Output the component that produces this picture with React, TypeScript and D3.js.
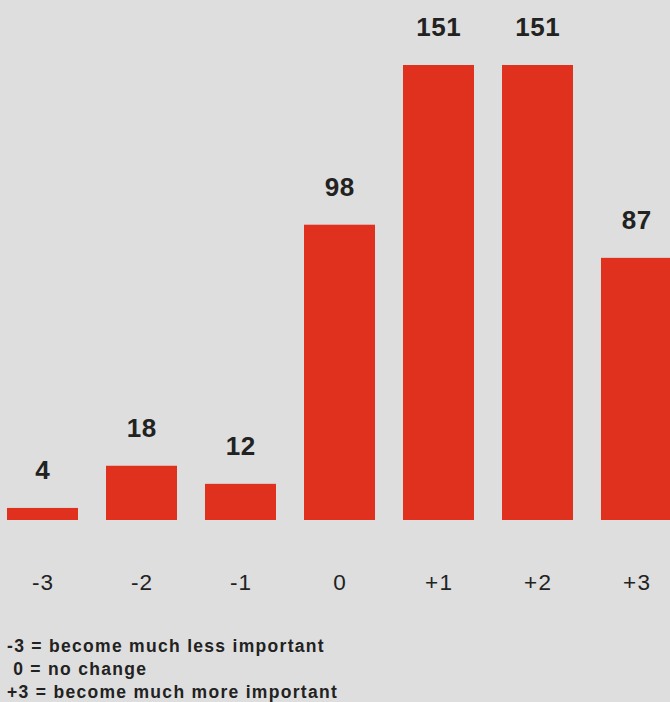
import React from "react";
import * as d3 from "d3";

const categories = ["-3", "-2", "-1", "0", "+1", "+2", "+3"];
const values = [4, 18, 12, 98, 151, 151, 87];
const legendLines = [
  "-3 = become much less important",
  "\u00a00 = no change",
  "+3 = become much more important",
];

const W = 670;
const H = 702;

export default function App() {
  const step = 99;
  const bw = 71;
  const x = d3
    .scaleBand<string>()
    .domain(categories)
    .range([7 - (step - bw) / 2, 7 - (step - bw) / 2 + step * categories.length])
    .paddingInner((step - bw) / step)
    .paddingOuter((step - bw) / step / 2);
  const y = d3.scaleLinear().domain([0, 151]).range([520, 65]);
  const font = "Helvetica, Arial, 'Liberation Sans', sans-serif";
  return (
    <svg
      width={W}
      height={H}
      style={{ position: "absolute", left: 0, top: 0, display: "block" }}
    >
      <rect x={0} y={0} width={W} height={H} fill="#dedede" />
      {categories.map((c, i) => {
        const bx = x(c) as number;
        const w = x.bandwidth();
        return (
          <g key={c}>
            <rect
              x={bx}
              y={y(values[i])}
              width={w}
              height={y(0) - y(values[i])}
              fill="#e0311f"
            />
            <text
              x={bx + w / 2 + 0.3}
              y={y(values[i]) - 29}
              textAnchor="middle"
              fontFamily={font}
              fontWeight="bold"
              fontSize={26}
              letterSpacing={0.6}
              fill="#222"
            >
              {values[i]}
            </text>
            <text
              x={bx + w / 2 + 0.6}
              y={590}
              textAnchor="middle"
              fontFamily={font}
              fontSize={22.5}
              letterSpacing={1.2}
              fill="#222"
            >
              {c}
            </text>
          </g>
        );
      })}
      {legendLines.map((t, i) => (
        <text
          key={i}
          x={7}
          y={652 + i * 23}
          fontFamily={font}
          fontWeight="bold"
          fontSize={17.5}
          letterSpacing={1.3}
          fill="#222"
        >
          {t}
        </text>
      ))}
    </svg>
  );
}
